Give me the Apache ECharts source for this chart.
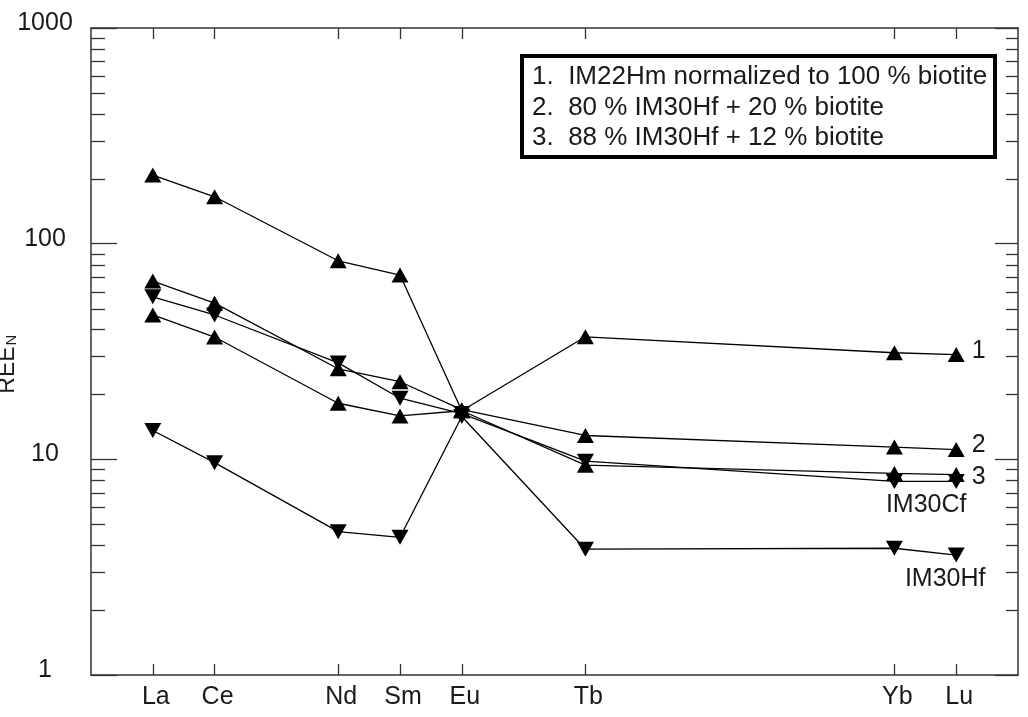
<!DOCTYPE html>
<html>
<head>
<meta charset="utf-8">
<script src="https://cdn.jsdelivr.net/npm/echarts@6/dist/echarts.min.js"></script>
<style>
html,body{margin:0;padding:0;background:#fff;}
#chart{width:1028px;height:717px;}
</style>
</head>
<body>
<div id="chart"></div>
<script>
// x slots (Pm omitted; empty slots pad the ends)
const slots = ['', 'La', 'Ce', 'Pr', 'Nd', 'Sm', 'Eu', 'Gd', 'Tb', 'Dy', 'Ho', 'Er', 'Tm', 'Yb', 'Lu', ''];
const elements = ['La', 'Ce', 'Nd', 'Sm', 'Eu', 'Tb', 'Yb', 'Lu'];

const s1 = [208, 165, 83.3, 71.5, 16.8, 37.0, 31.2, 30.6];     // 1. IM22Hm normalized to 100 % biotite
const s2 = [67.1, 53.0, 26.3, 22.9, 17.0, 12.9, 11.4, 11.1];   // 2. 80 % IM30Hf + 20 % biotite
const s3 = [46.7, 36.9, 18.2, 15.9, 16.8, 9.4, 8.6, 8.5];      // 3. 88 % IM30Hf + 12 % biotite
const cf = [56.7, 46.7, 28.0, 19.2, 16.3, 9.8, 7.9, 7.9];      // IM30Cf
const hf = [13.6, 9.65, 4.62, 4.35, 15.8, 3.83, 3.87, 3.6];    // IM30Hf

const yTickLabels = ['1', '10', '100', '1000'];
const minorTicks = [2,3,4,5,6,7,8,9,20,30,40,50,60,70,80,90,200,300,400,500,600,700,800,900];

const legendLines = [
  '1.  IM22Hm normalized to 100 % biotite',
  '2.  80 % IM30Hf + 20 % biotite',
  '3.  88 % IM30Hf + 12 % biotite'
];
const yTitle = ['REE', 'N'];

const FONT = '"Liberation Sans", Arial, sans-serif';
const INK = '#1a1a1a';
const AX = '#333';

function toSlots(vals, lastLabel) {
  const out = slots.map(() => null);
  elements.forEach((e, i) => {
    const idx = slots.indexOf(e);
    out[idx] = vals[i];
  });
  if (lastLabel) {
    const li = slots.indexOf('Lu');
    out[li] = { value: out[li], label: lastLabel };
  }
  return out;
}

function lineSeries(name, vals, down, lastLabel) {
  return {
    name: name,
    type: 'line',
    data: toSlots(vals, lastLabel),
    connectNulls: true,
    symbol: 'triangle',
    symbolSize: [17, 15],
    symbolRotate: down ? 180 : 0,
    showAllSymbol: true,
    lineStyle: { color: '#000', width: 1.3 },
    itemStyle: { color: '#000' },
    emphasis: { disabled: true },
    animation: false,
    z: 3
  };
}

const endLbl = (txt, dy) => ({
  show: true, position: 'right', distance: 7, offset: [0, dy],
  formatter: txt, fontSize: 25, fontFamily: FONT, color: INK
});
const belowLbl = (txt, dx, dy) => ({
  show: true, position: 'bottom', distance: 1, offset: [dx, dy],
  formatter: txt, fontSize: 25, fontFamily: FONT, color: INK
});

const shownSet = new Set(elements);
const chart = echarts.init(document.getElementById('chart'), null, { renderer: 'canvas' });

const option = {
  backgroundColor: '#fff',
  animation: false,
  grid: { left: 91, right: 10, top: 28, bottom: 42, containLabel: false, outerBoundsMode: 'none' },
  xAxis: [
    {
      type: 'category', data: slots, boundaryGap: false, position: 'bottom',
      axisLine: { show: true, lineStyle: { color: AX, width: 1.5 } },
      axisTick: { show: true, inside: true, length: 11, lineStyle: { color: AX, width: 1.3 },
        interval: (i, v) => shownSet.has(v) },
      axisLabel: { show: true, margin: 10, fontSize: 25, fontFamily: FONT, color: INK,
        padding: [0, 0, 0, 6],
        interval: (i, v) => shownSet.has(v) },
      splitLine: { show: false }
    },
    {
      type: 'category', data: slots, boundaryGap: false, position: 'top',
      axisLine: { show: true, lineStyle: { color: AX, width: 1.5 } },
      axisTick: { show: true, inside: true, length: 11, lineStyle: { color: AX, width: 1.3 },
        interval: (i, v) => shownSet.has(v) },
      axisLabel: { show: false },
      splitLine: { show: false }
    }
  ],
  yAxis: [
    {
      type: 'log', logBase: 10, min: 1, max: 1000, position: 'left',
      axisLine: { show: true, lineStyle: { color: AX, width: 1.5 } },
      axisTick: { show: true, inside: true, length: 26, lineStyle: { color: AX, width: 1.3 } },
      axisLabel: { show: true, margin: 46, align: 'center', verticalAlign: 'bottom', lineHeight: 10,
        fontSize: 25, fontFamily: FONT, color: INK, showMinLabel: true, showMaxLabel: true,
        formatter: (v) => yTickLabels.find(t => Number(t) === Math.round(v)) || '' },
      splitLine: { show: false }
    },
    {
      type: 'log', logBase: 10, min: 1, max: 1000, position: 'right',
      axisLine: { show: true, lineStyle: { color: AX, width: 1.5 } },
      axisTick: { show: true, inside: true, length: 23, lineStyle: { color: AX, width: 1.3 } },
      axisLabel: { show: false },
      splitLine: { show: false }
    }
  ],
  graphic: [
    {
      type: 'text', x: 19, y: 370, rotation: Math.PI / 2, z: 10,
      style: { text: yTitle[0], font: '23px ' + FONT, fill: INK, align: 'center', verticalAlign: 'bottom' }
    },
    {
      type: 'text', x: 19, y: 340, rotation: Math.PI / 2, z: 10,
      style: { text: yTitle[1], font: '15px ' + FONT, fill: INK, align: 'center', verticalAlign: 'bottom' }
    },
    {
      type: 'group', left: 520, top: 54, z: 10,
      children: [
        { type: 'rect', shape: { x: 2, y: 2, width: 473, height: 101 },
          style: { fill: '#fff', stroke: '#000', lineWidth: 4 } },
        ...legendLines.map((t, i) => ({
          type: 'text', x: 12, y: 23 + i * 30.5,
          style: { text: t, font: '26px ' + FONT, fill: INK, verticalAlign: 'middle', align: 'left' }
        }))
      ]
    }
  ],
  series: [
    {
      type: 'custom', name: 'minorTicks', xAxisIndex: 0, yAxisIndex: 0,
      data: minorTicks.map(v => [1, v]), encode: { x: 0, y: 1 }, clip: false, silent: true,
      renderItem: function (params, api) {
        const y = Math.round(api.coord([1, api.value(1)])[1]) + 0.5;
        const cs = params.coordSys;
        const st = { stroke: AX, lineWidth: 1.3 };
        return { type: 'group', children: [
          { type: 'line', shape: { x1: cs.x, y1: y, x2: cs.x + 14, y2: y }, style: st },
          { type: 'line', shape: { x1: cs.x + cs.width - 12, y1: y, x2: cs.x + cs.width, y2: y }, style: st }
        ] };
      },
      z: 2
    },
    lineSeries('1. IM22Hm normalized to 100 % biotite', s1, false, endLbl('1', -3)),
    lineSeries('2. 80 % IM30Hf + 20 % biotite', s2, false, endLbl('2', -4)),
    lineSeries('3. 88 % IM30Hf + 12 % biotite', s3, false, endLbl('3', 3)),
    lineSeries('IM30Cf', cf, true, belowLbl('IM30Cf', -30, 3)),
    lineSeries('IM30Hf', hf, true, belowLbl('IM30Hf', -11, 3))
  ]
};
chart.setOption(option);
</script>
</body>
</html>
